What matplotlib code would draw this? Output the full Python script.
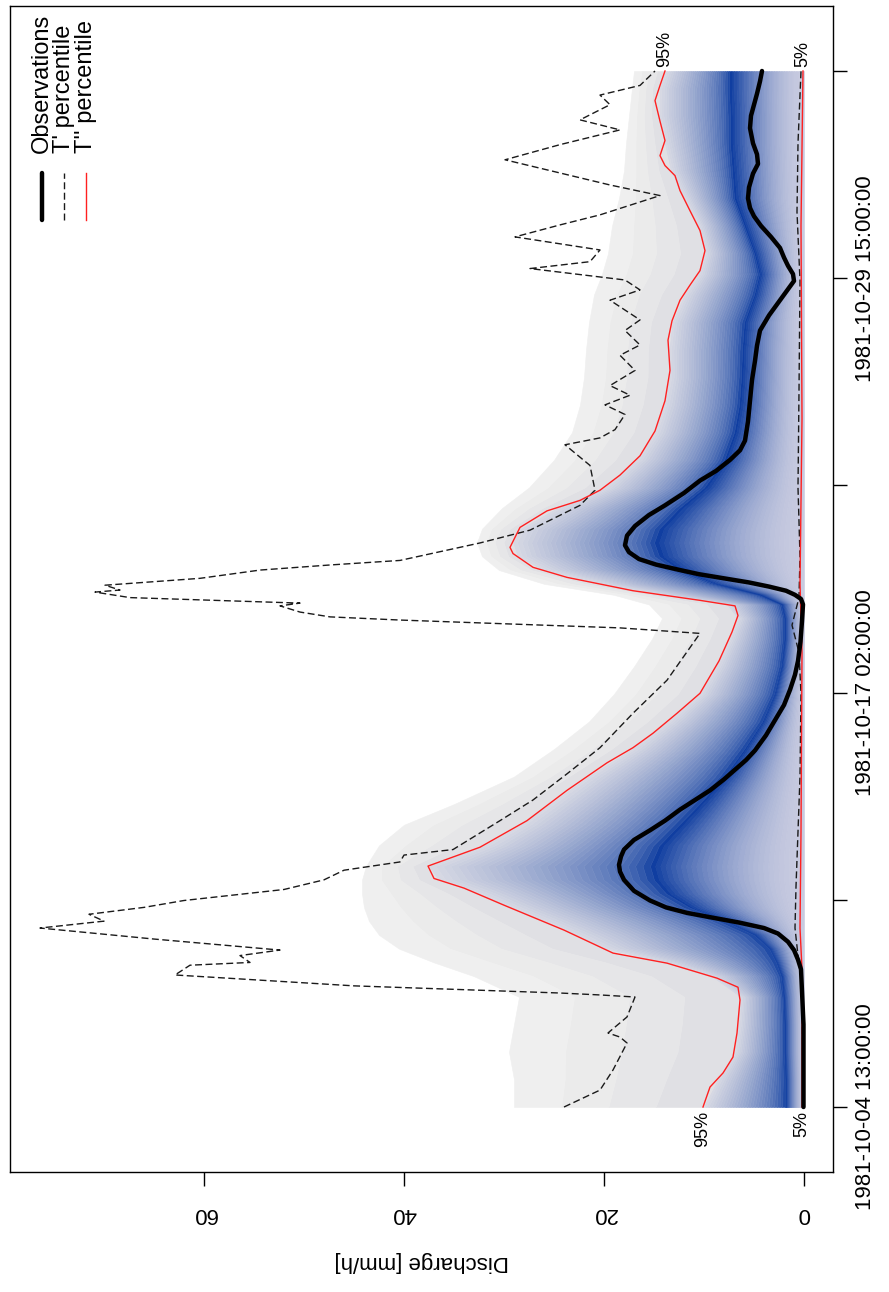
import numpy as np
import matplotlib.pyplot as plt
from matplotlib.colors import to_rgb

plt.rcParams['font.family'] = ['Liberation Sans', 'DejaVu Sans']

# time in hours since 1981-10-04 13:00, discharge in mm/h
tick_hours = [0, 150.5, 301, 451.5, 602, 752.5]
tick_labels = ["1981-10-04 13:00:00", "", "1981-10-17 02:00:00", "",
               "1981-10-29 15:00:00", ""]
q_ticks = [0, 20, 40, 60]

obs_t = [0, 60, 100, 107, 114, 120, 126, 130, 134, 138, 141, 145, 150, 157,
         165, 171, 176, 182, 187, 194, 201, 208, 216, 223, 230, 238, 245,
         252, 259, 270, 281, 292, 303, 314, 324, 338, 353, 365, 369, 372,
         375, 378, 381, 384, 387, 390, 394, 398, 403, 408, 415, 422, 430,
         437, 446, 455, 462, 470, 477, 484, 498, 513, 528, 542, 553, 564,
         575, 586, 594, 600, 605, 611, 617, 624, 632, 640, 647, 653, 660,
         668, 678, 685, 692, 700, 711, 720, 728, 736, 745, 752.5]
obs_q = [0.05, 0.05, 0.3, 0.6, 1.0, 1.6, 2.6, 4.0, 6.5, 9.5, 11.7, 13.8,
         15.4, 17.0, 18.0, 18.4, 18.5, 18.3, 18.0, 17.0, 15.4, 13.9, 12.4,
         10.9, 9.4, 8.0, 6.9, 5.8, 4.9, 3.8, 2.9, 2.0, 1.4, 0.9, 0.6, 0.35,
         0.2, 0.1, 0.3, 0.9, 1.8, 3.5, 5.5, 8.0, 10.5, 12.4, 14.8, 16.5, 17.5,
         17.9, 17.7, 16.9, 15.5, 13.9, 12.0, 10.4, 8.8, 7.4, 6.4, 5.9, 5.6,
         5.4, 5.2, 4.9, 4.7, 4.4, 3.5, 2.4, 1.6, 1.0, 1.1, 1.6, 2.0, 2.4,
         3.3, 4.3, 5.0, 5.4, 5.6, 5.5, 5.1, 4.6, 4.7, 5.1, 5.4, 5.3, 5.0,
         4.7, 4.4, 4.2]

# T'' percentile, upper (95%) and lower (5%)
red_hi_t = [0, 14.5, 24.7, 36.3, 53.7, 77.7, 87, 93.6, 104.5, 111.8, 128.5,
            146.6, 159, 166, 175, 188.7, 208, 230, 250, 261, 271.5, 286,
            300.5, 324, 345, 357, 364, 368, 375, 384.7, 392, 402, 406.5, 421,
            433, 440.6, 448, 459, 473, 491, 513, 535, 557, 571, 586, 597,
            607.5, 622, 636.6, 651, 665.6, 676.5, 683.8, 691, 702, 716, 731,
            742, 752.5]
red_hi_q = [10.1, 9.4, 8.1, 7.1, 6.7, 6.4, 6.6, 8.7, 13.7, 19.1, 24.0, 30.0,
            34.0, 37.0, 37.6, 32.4, 27.7, 23.7, 19.7, 17.1, 15.1, 12.7, 10.4,
            8.5, 7.2, 6.6, 6.9, 10.4, 17.1, 23.7, 27.1, 29.1, 29.4, 28.4,
            25.7, 22.4, 20.4, 18.4, 16.4, 14.9, 13.9, 13.4, 13.6, 13.2, 12.4,
            11.4, 10.4, 9.9, 10.4, 11.4, 12.4, 12.9, 13.9, 14.4, 13.9, 14.4,
            14.9, 14.4, 13.9]
red_lo_t = [0, 100, 130, 200, 330, 380, 500, 640, 752.5]
red_lo_q = [0.2, 0.2, 0.4, 0.3, 0.2, 0.4, 0.2, 0.3, 0.1]

# T' percentile, upper (95%) and lower (5%)
dash_hi_t = [0, 12.3, 26.9, 46.5, 50.8, 53.8, 65.4, 79.9, 81.4, 82.8, 88,
             95.9, 103, 105, 110, 114, 122, 130, 135, 140, 145, 150, 158,
             165, 172, 178, 183, 187, 208, 223, 242, 261, 286, 310, 344, 348,
             353.7, 356, 359.5, 364, 366, 370, 374, 375.5, 379, 384, 390,
             393.7, 397, 409.7, 419, 437, 448, 466, 481, 486, 492, 503, 510,
             517, 524, 535, 546, 553.5, 564, 571.7, 586, 593.5, 600.7, 609,
             614, 622.5, 632, 640.7, 648, 662, 669.7, 688, 699, 709.7, 717,
             728, 735, 742, 752.5]
dash_hi_q = [24.0, 20.4, 19.1, 17.7, 18.4, 19.6, 17.7, 16.9, 20.4, 24.4,
             45.0, 62.9, 61.4, 55.4, 56.4, 52.4, 65.0, 76.4, 70.0, 71.5, 66.0,
             62.0, 52.0, 48.0, 46.0, 40.4, 40.0, 35.1, 30.4, 27.1, 23.7, 20.4,
             17.1, 13.7, 10.4, 18.4, 40.4, 47.4, 50.4, 52.4, 50.4, 67.4, 70.9,
             68.4, 69.9, 60.4, 54.4, 47.4, 40.4, 32.4, 27.4, 22.4, 20.9, 21.4,
             23.9, 20.4, 18.9, 17.9, 19.9, 17.4, 19.4, 16.9, 18.4, 16.4, 17.9,
             16.4, 19.4, 16.4, 17.9, 27.4, 21.4, 20.4, 28.9, 24.4, 20.4, 14.4,
             19.4, 29.9, 24.4, 18.4, 22.4, 19.4, 20.4, 16.4, 14.9]
dash_lo_t = [0, 90, 110, 130, 160, 200, 240, 300, 330, 350, 370, 400, 450,
             520, 600, 650, 700, 752.5]
dash_lo_q = [0.1, 0.2, 0.6, 0.9, 0.8, 0.6, 0.4, 0.3, 0.5, 1.2, 0.5, 0.4, 0.6,
             0.5, 0.4, 0.7, 0.6, 0.3]

# predictive density: ridge and outer envelope
fan_t = [0, 20, 40, 60, 80, 95, 105, 115, 125, 135, 145, 155, 165, 175, 190,
         205, 220, 240, 260, 280, 300, 320, 340, 355, 365, 372, 380, 390, 400,
         410, 420, 435, 450, 470, 490, 510, 530, 550, 570, 590, 605, 620, 640,
         660, 680, 700, 720, 740, 752.5]
fan_mode = [1.9, 1.9, 2.0, 2.0, 2.1, 2.3, 2.8, 3.5, 5.0, 8.0, 11.5, 13.8,
            15.0, 15.4, 14.5, 12.5, 10.5, 8.0, 6.0, 4.2, 3.0, 2.3, 2.0, 2.0,
            2.3, 4.5, 9.0, 12.5, 14.5, 15.0, 14.5, 12.5, 10.0, 8.0, 7.0, 6.5,
            6.3, 6.2, 6.0, 5.0, 4.5, 5.0, 6.0, 7.0, 7.2, 7.4, 7.4, 7.5, 7.5]
fan_env = [29, 29, 29.5, 29, 28.5, 33, 37, 40.5, 42.5, 43.5, 44, 44.2, 44.2,
           43.8, 42.5, 40, 35, 29, 25, 21.5, 19, 17, 15.2, 14.2, 15.5, 19,
           26, 30.5, 32.2, 32.7, 32.2, 30.2, 27.5, 25, 23.2, 22.4, 22.0, 21.8,
           21.5, 21, 20.2, 19.6, 19.2, 18.5, 18, 17.8, 17.5, 17.2, 17.0]


def mix(c1, c2, f):
    a, b = np.array(to_rgb(c1)), np.array(to_rgb(c2))
    return tuple(a + (b - a) * f)


fig = plt.figure(figsize=(8.89, 12.92), dpi=100)
ax = fig.add_axes([10 / 889, 120 / 1292, 823 / 889, 1166 / 1292])

ft = np.array(fan_t)
mode = np.array(fan_mode)
env = np.array(fan_env)
red_on_fan = np.interp(ft, red_hi_t, red_hi_q)

light, dark, lav = '#C8CBE0', '#0A3A9F', '#D8D9E4'
n = 30
# 0 -> ridge
for k in range(n):
    u0, u1 = k / n, (k + 1) / n
    c = mix(light, dark, ((u0 + u1) / 2) ** 1.8)
    ax.fill_betweenx(ft, mode * u0, mode * u1, color=c, lw=0.4)
# ridge -> T'' 95%
for k in range(n):
    u0, u1 = k / n, (k + 1) / n
    c = mix(dark, lav, ((u0 + u1) / 2) ** 0.55)
    ax.fill_betweenx(ft, mode + (red_on_fan - mode) * u0,
                     mode + (red_on_fan - mode) * u1, color=c, lw=0.4)
# T'' 95% -> outer envelope
greys = ['#E0E0E4', '#E6E6E8', '#EBEBEB', '#EFEFEF']
for k, c in enumerate(greys):
    u0, u1 = k / len(greys), (k + 1) / len(greys)
    ax.fill_betweenx(ft, red_on_fan + (env - red_on_fan) * u0,
                     red_on_fan + (env - red_on_fan) * u1, color=c, lw=0.4)

dash = dict(color='#1a1a1a', lw=1.0, dashes=(5, 2.5))
ax.plot(dash_hi_q, dash_hi_t, **dash)
ax.plot(dash_lo_q, dash_lo_t, **dash)
ax.plot(red_hi_q, red_hi_t, color='#FF2020', lw=1.0)
ax.plot(red_lo_q, red_lo_t, color='#FF2020', lw=1.0)
ax.plot(obs_q, obs_t, color='black', lw=3.2, solid_capstyle='round')

# percentile labels at both ends of the T'' band
pct = dict(rotation=90, rotation_mode='anchor', va='center', fontsize=13)
ax.text(red_hi_q[0], red_hi_t[0] - 3, '95%', ha='right', **pct)
ax.text(red_lo_q[0], red_lo_t[0] - 3, '5%', ha='right', **pct)
ax.text(red_hi_q[-1], red_hi_t[-1] + 3, '95%', ha='left', **pct)
ax.text(red_lo_q[-1], red_lo_t[-1] + 3, '5%', ha='left', **pct)

ax.set_xlim(79.4, -2.9)
ax.set_ylim(-47.2, 799.7)
ax.set_xticks(q_ticks)
ax.set_xticklabels([str(v) for v in q_ticks])
ax.yaxis.tick_right()
ax.set_yticks(tick_hours)
ax.set_yticklabels(tick_labels)
ax.tick_params(axis='x', length=10, width=1, labelsize=16, labelrotation=180,
               pad=12)
ax.tick_params(axis='y', length=10, width=1, labelsize=16, labelrotation=90,
               pad=6)
for lab in ax.get_yticklabels():
    lab.set_va('center')
ax.set_xlabel('Discharge [mm/h]', rotation=180, fontsize=16, labelpad=20)
for s in ax.spines.values():
    s.set_linewidth(1.0)

# legend, drawn sideways in the upper left corner
leg = [('Observations', dict(color='black', lw=3.2, solid_capstyle='round')),
       ("T' percentile", dash),
       ("T'' percentile", dict(color='#FF2020', lw=1.0))]
for i, (name, style) in enumerate(leg):
    xf = (42 + 22 * i - 10) / 823
    ax.plot([xf, xf], [(1172 - 220) / 1166, (1172 - 173) / 1166],
            transform=ax.transAxes, **style)
    ax.text(xf, (1172 - 153) / 1166, name, transform=ax.transAxes,
            rotation=90, rotation_mode='anchor', ha='left', va='center',
            fontsize=17)

fig.savefig('out.png', dpi=100)
